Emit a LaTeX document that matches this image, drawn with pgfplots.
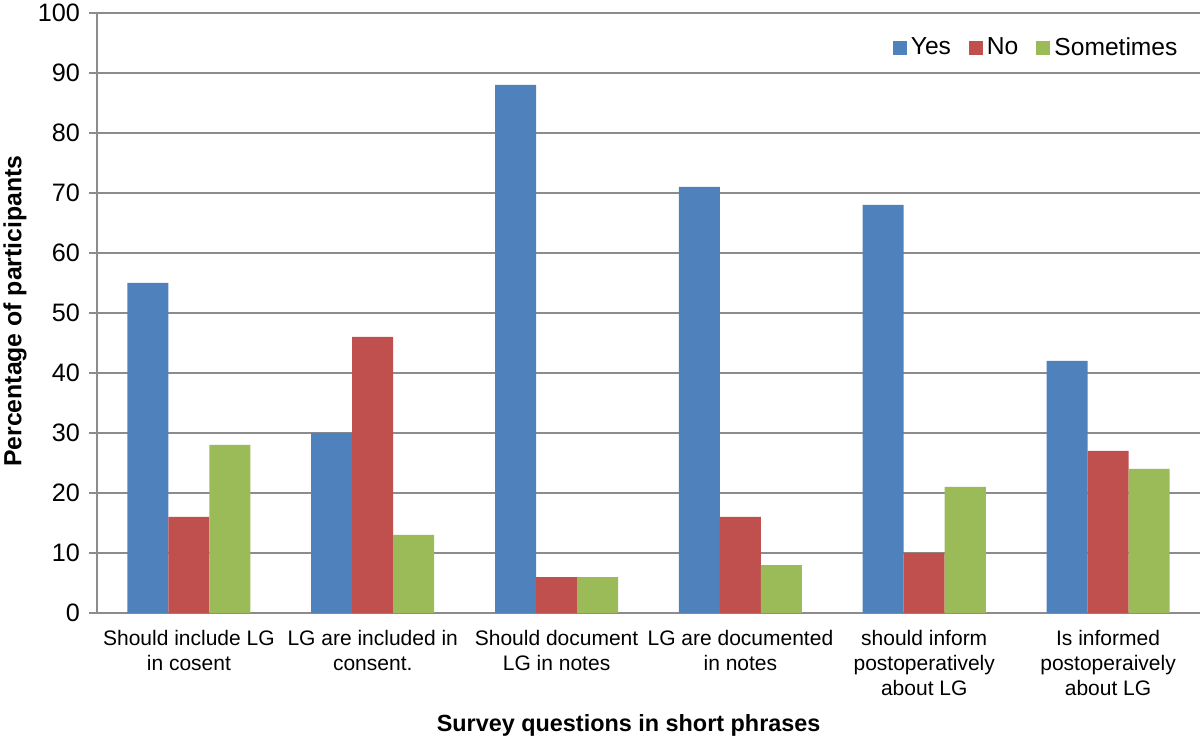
\documentclass[border=0pt]{standalone}
\usepackage{fontspec}
\setmainfont{Liberation Sans}
\usepackage{pgfplots}
\pgfplotsset{compat=1.18}
\definecolor{yesblue}{HTML}{4F81BD}
\definecolor{nored}{HTML}{C0504D}
\definecolor{somegreen}{HTML}{9BBB59}
\definecolor{axgray}{HTML}{8C8C8C}

\begin{document}
\begin{tikzpicture}[x=1pt,y=1pt]
\useasboundingbox (-48.5,-65.5) rectangle (551.5,306.5);
\begin{axis}[
  at={(0,0)}, anchor=south west,
  scale only axis,
  width=551.5pt,
  height=300pt,
  ybar=0pt,
  bar width=20.5pt,
  xmin=-0.5, xmax=5.5,
  ymin=0, ymax=100,
  ytick={0,10,...,100},
  xtick={0,...,5},
  xticklabels={
    {Should include LG\\in cosent},
    {LG are included in\\consent.},
    {Should document\\LG in notes},
    {LG are documented\\in notes},
    {should inform\\postoperatively\\about LG},
    {Is informed\\postoperaively\\about LG}},
  xticklabel style={align=center, font=\fontsize{10.5}{12.5}\selectfont, yshift=-1pt},
  yticklabel style={font=\fontsize{12.6}{15}\selectfont, xshift=-1pt},
  /pgf/number format/assume math mode=true,
  ymajorgrids,
  grid style={draw=axgray, line width=1pt},
  axis x line*=bottom,
  axis y line*=left,
  axis line style={draw=axgray, line width=1pt, -},
  x tick style={draw=none},
  y tick style={draw=axgray, line width=1pt},
  tick align=outside,
  major tick length=4pt,
  xlabel={\textbf{Survey questions in short phrases}},
  ylabel={\textbf{Percentage of participants}},
  xlabel style={font=\fontsize{11.7}{14}\selectfont, at={(axis description cs:0.482,-0.198)}, anchor=base},
  ylabel style={font=\fontsize{12.4}{14}\selectfont, at={(axis description cs:-0.0743,0.503)}, anchor=center},
  legend columns=3,
  legend style={draw=none, fill=none, at={(0.989,0.942)}, anchor=east,
    font=\fontsize{12.3}{14}\selectfont,
    /tikz/every even column/.append style={column sep=7pt}},
  legend image code/.code={\fill[#1] (0pt,-3.5pt) rectangle (7pt,3.5pt);},
]
\addplot[fill=yesblue, draw=none] coordinates {(0,55) (1,30) (2,88) (3,71) (4,68) (5,42)};
\addlegendentry{Yes}
\addplot[fill=nored, draw=none] coordinates {(0,16) (1,46) (2,6) (3,16) (4,10) (5,27)};
\addlegendentry{No}
\addplot[fill=somegreen, draw=none] coordinates {(0,28) (1,13) (2,6) (3,8) (4,21) (5,24)};
\addlegendentry{Sometimes}
\end{axis}
\end{tikzpicture}
\end{document}
